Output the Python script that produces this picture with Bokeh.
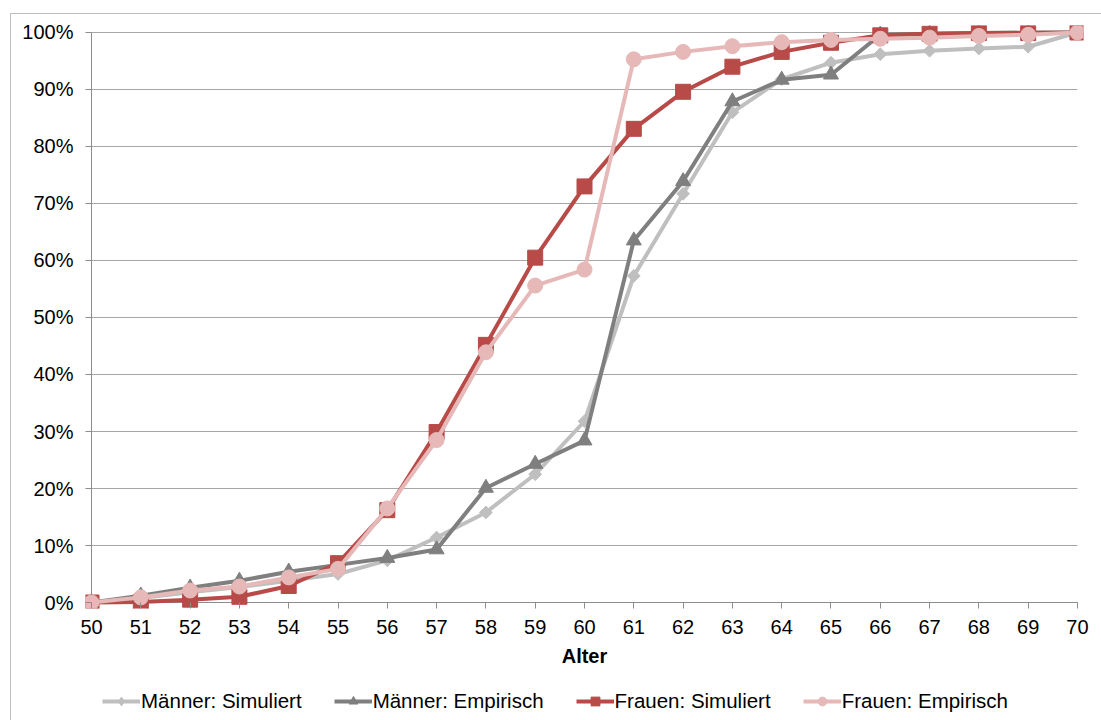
import math
from bokeh.plotting import figure
from bokeh.layouts import column
from bokeh.models import Range1d, FixedTicker, PrintfTickFormatter, Legend, LegendItem
from bokeh.embed import file_html
from bokeh.resources import INLINE

# Cumulative share (%) by age
ages = list(range(50, 71))
maenner_sim = [0, 0.8, 1.8, 2.7, 3.8, 5.0, 7.4, 11.4, 15.8, 22.5, 31.8, 57.3, 71.7, 86.0, 91.8, 94.7, 96.2, 96.8, 97.2, 97.5, 100]
maenner_emp = [0, 1.2, 2.6, 3.8, 5.4, 6.6, 7.8, 9.3, 20.1, 24.3, 28.4, 63.5, 73.9, 87.9, 91.7, 92.6, 99.6, 99.8, 99.9, 100, 100]
frauen_sim = [0, 0.1, 0.5, 1.0, 2.9, 6.9, 16.2, 29.9, 45.2, 60.5, 73.0, 83.1, 89.6, 94.0, 96.6, 98.2, 99.5, 99.8, 99.9, 99.9, 100]
frauen_emp = [0, 0.9, 2.1, 2.8, 4.4, 5.9, 16.5, 28.5, 43.9, 55.6, 58.4, 95.3, 96.6, 97.6, 98.3, 98.7, 98.9, 99.1, 99.4, 99.6, 100]

y_ticks = list(range(0, 101, 10))

FONT = "Liberation Sans"
GRID = "#a6a6a6"
AXIS = "#8c8c8c"

p = figure(
    width=1090, height=662,
    output_backend="svg", toolbar_location=None,
    x_range=Range1d(49.878, 70.122), y_range=Range1d(-1.0526, 101.228),
    min_border_left=74, min_border_right=18, min_border_top=11, min_border_bottom=68,
)
p.outline_line_color = None
p.xgrid.visible = False
p.ygrid.visible = False

# horizontal gridlines across the age span
p.segment(x0=[ages[0]] * len(y_ticks), x1=[ages[-1]] * len(y_ticks), y0=y_ticks, y1=y_ticks,
          line_color=GRID, line_width=1)
# axis lines
p.segment(x0=[ages[0]], x1=[ages[0]], y0=[y_ticks[0]], y1=[y_ticks[-1]], line_color=AXIS, line_width=1)
p.segment(x0=[ages[0]], x1=[ages[-1]], y0=[y_ticks[0]], y1=[y_ticks[0]], line_color=AXIS, line_width=1)

# axes
p.xaxis.ticker = FixedTicker(ticks=ages)
p.yaxis.ticker = FixedTicker(ticks=y_ticks)
p.yaxis.formatter = PrintfTickFormatter(format="%d%%")
for ax in (p.xaxis[0], p.yaxis[0]):
    ax.axis_line_color = None
    ax.major_tick_in = 6
    ax.major_tick_out = 0
    ax.major_tick_line_color = AXIS
    ax.minor_tick_line_color = None
    ax.major_label_text_font = FONT
    ax.major_label_text_font_size = "20px"
    ax.major_label_text_color = "#000000"
p.yaxis.major_label_standoff = 12
p.xaxis.major_label_standoff = 11
p.xaxis.axis_label = "Alter"
p.xaxis.axis_label_text_font = FONT
p.xaxis.axis_label_text_font_size = "20px"
p.xaxis.axis_label_text_font_style = "bold"
p.xaxis.axis_label_text_color = "#000000"
p.xaxis.axis_label_standoff = 8

series = [
    ("Männer: Simuliert", maenner_sim, "#bfbfbf", "square", 9, math.pi / 4, "diamond"),
    ("Männer: Empirisch", maenner_emp, "#7f7f7f", "triangle", 15, 0, "triangle"),
    ("Frauen: Simuliert", frauen_sim, "#b84a48", "square", 15, 0, "square"),
    ("Frauen: Empirisch", frauen_emp, "#e6b9b8", "circle", 15, 0, "circle"),
]

for name, vals, color, marker, size, angle, _ in series:
    p.line(ages, vals, line_color=color, line_width=4, line_join="round")
    p.scatter(ages, vals, marker=marker, size=size, angle=angle,
              fill_color=color, line_color=color)

# legend strip underneath the chart; its renderers carry the series but lie outside the view
leg = figure(
    width=1090, height=44, output_backend="svg", toolbar_location=None,
    x_range=Range1d(0, 1), y_range=Range1d(0, 1),
    x_axis_type=None, y_axis_type=None, min_border=0,
)
leg.outline_line_color = None
leg.xgrid.visible = False
leg.ygrid.visible = False
items = []
for name, vals, color, _, _, _, lmarker in series:
    ln = leg.line(ages, vals, line_color=color, line_width=4)
    sc = leg.scatter(ages, vals, marker=lmarker, size=10, fill_color=color, line_color=color)
    items.append(LegendItem(label=name, renderers=[ln, sc]))

legend = Legend(
    items=items, orientation="horizontal", location=(17, 7),
    glyph_width=38, glyph_height=22, label_height=22, label_standoff=1, spacing=32,
    padding=0, margin=0, border_line_color=None, background_fill_alpha=0,
    label_text_font=FONT, label_text_font_size="20.5px", label_text_color="#000000",
)
leg.add_layout(legend, "center")

page = column(p, leg, spacing=0)
page.margin = (13, 0, 0, 10)
page.styles = {"border-left": "1px solid #bfbfbf", "border-top": "1px solid #bfbfbf"}

open("out.html", "w").write(file_html(page, INLINE))
